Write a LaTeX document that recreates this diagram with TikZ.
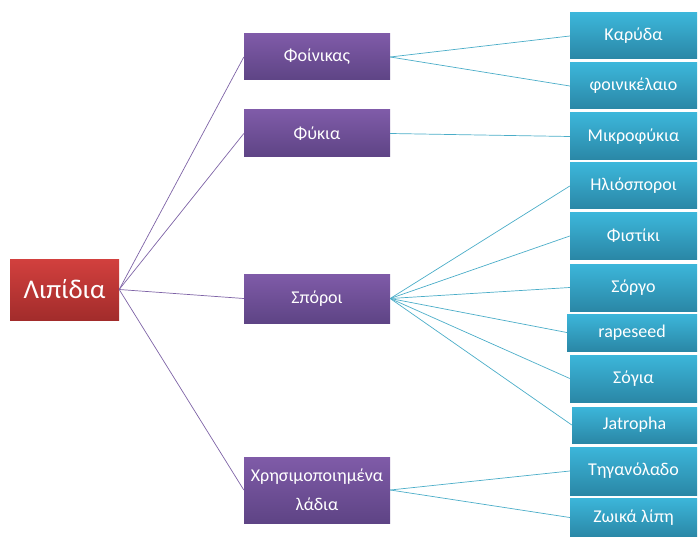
\documentclass[tikz,border=0pt]{standalone}
\usepackage{fontspec}
\setmainfont{Carlito}
\definecolor{rtop}{HTML}{D2403E}
\definecolor{rbot}{HTML}{A22C2B}
\definecolor{ptop}{HTML}{7F5BA8}
\definecolor{pbot}{HTML}{5E4485}
\definecolor{ttop}{HTML}{3CB6DA}
\definecolor{tbot}{HTML}{2A87A6}
\definecolor{pline}{HTML}{7E63A6}
\definecolor{tline}{HTML}{4BADC8}
\tikzset{
  rootbox/.style={top color=rtop, bottom color=rbot, text=white, inner sep=0pt, font=\fontsize{27}{30}\selectfont},
  lvlone/.style={top color=ptop, bottom color=pbot, text=white, inner sep=0pt, minimum width=146pt, font=\fontsize{18}{29}\selectfont, align=center},
  lvltwo/.style={top color=ttop, bottom color=tbot, text=white, inner sep=0pt, font=\fontsize{18}{20}\selectfont},
  pcon/.style={draw=pline, line width=0.7pt},
  tcon/.style={draw=tline, line width=0.7pt}
}
\begin{document}
\begin{tikzpicture}[x=1pt,y=-1pt]
\useasboundingbox (0,0) rectangle (698,537);
% root
\node[rootbox, minimum width=109pt, minimum height=61pt] (root) at (64.5,289.5) {Λιπίδια};
% level one
\node[lvlone, minimum height=46pt] (foinikas) at (317,57) {Φοίνικας};
\node[lvlone, minimum height=47pt] (fykia) at (317,133.5) {Φύκια};
\node[lvlone, minimum height=49pt] (sporoi) at (317,298.5) {Σπόροι};
\node[lvlone, minimum height=66pt] (xrisi) at (317,490) {Χρησιμοποιημένα\\λάδια};
% level two
\node[lvltwo, minimum width=127pt, minimum height=46pt] (karyda) at (633.5,36) {Καρύδα};
\node[lvltwo, minimum width=127pt, minimum height=46pt] (foinel) at (633.5,86) {φοινικέλαιο};
\node[lvltwo, minimum width=127pt, minimum height=47pt] (mikro) at (633.5,136.5) {Μικροφύκια};
\node[lvltwo, minimum width=127pt, minimum height=46pt] (ilio) at (633.5,186) {Ηλιόσποροι};
\node[lvltwo, minimum width=127pt, minimum height=46pt] (fisti) at (633.5,236) {Φιστίκι};
\node[lvltwo, minimum width=127pt, minimum height=47pt] (sorgo) at (633.5,287.5) {Σόργο};
\node[lvltwo, minimum width=130pt, minimum height=37pt] (rape) at (632,332.5) {rapeseed};
\node[lvltwo, minimum width=127pt, minimum height=47pt] (soya) at (633.5,378.5) {Σόγια};
\node[lvltwo, minimum width=125pt, minimum height=36pt] (jatr) at (634.5,425) {Jatropha};
\node[lvltwo, minimum width=127pt, minimum height=48pt] (tigan) at (633.5,471) {Τηγανόλαδο};
\node[lvltwo, minimum width=127pt, minimum height=39pt] (zoika) at (633.5,517.5) {Ζωικά λίπη};
% connectors
\draw[pcon] (root.east) -- (foinikas.west);
\draw[pcon] (root.east) -- (fykia.west);
\draw[pcon] (root.east) -- (sporoi.west);
\draw[pcon] (root.east) -- (xrisi.west);
\draw[tcon] (foinikas.east) -- (karyda.west);
\draw[tcon] (foinikas.east) -- (foinel.west);
\draw[tcon] (fykia.east) -- (mikro.west);
\draw[tcon] (sporoi.east) -- (ilio.west);
\draw[tcon] (sporoi.east) -- (fisti.west);
\draw[tcon] (sporoi.east) -- (sorgo.west);
\draw[tcon] (sporoi.east) -- (rape.west);
\draw[tcon] (sporoi.east) -- (soya.west);
\draw[tcon] (sporoi.east) -- (jatr.west);
\draw[tcon] (xrisi.east) -- (tigan.west);
\draw[tcon] (xrisi.east) -- (zoika.west);
\end{tikzpicture}
\end{document}
